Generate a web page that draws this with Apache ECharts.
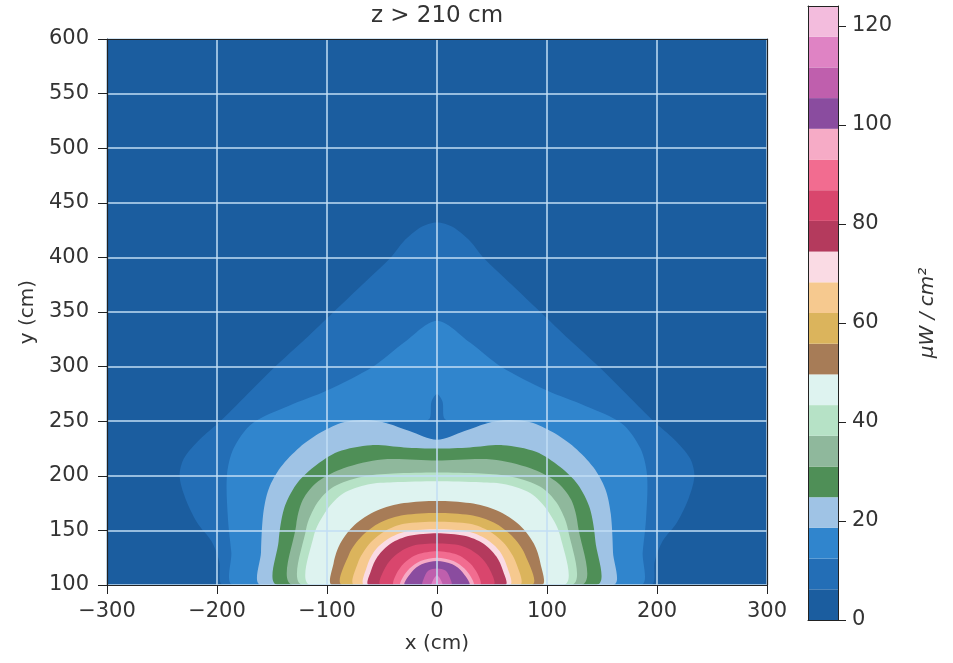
<!DOCTYPE html>
<html>
<head>
<meta charset="utf-8">
<script src="https://cdn.jsdelivr.net/npm/echarts@6/dist/echarts.min.js"></script>
<style>
html,body{margin:0;padding:0;background:#fff}
#main{width:953px;height:663px}
</style>
</head>
<body>
<div id="main"></div>
<script>
// contour levels (µW/cm²), 20 bands
var levels = [0, 6.2, 12.4, 18.6, 24.8, 31, 37.2, 43.4, 49.6, 55.8, 62, 68.2, 74.4, 80.6, 86.8, 93, 99.2, 105.4, 111.6, 117.8, 124];
var cbTicks = [0, 20, 40, 60, 80, 100, 120];

// right half of each contour line [x, y] in cm (left half is mirrored)
var c1  = [[0,432],[14,428],[30,415],[42,400],[68,375],[94,350],[120,325],[147,300],[175,272],[197,250],[216,233],[230,216],[234,200],[229,180],[218,157],[205,140],[198,122],[194,100]];
var c2  = [[0,342],[30,322],[58,300],[100,278],[135,264],[168,248],[185,225],[191,200],[190,160],[187,130],[185,100]];
var dip = [[0,275],[5,268],[7,252],[20,250],[44,249],[46,243],[30,236],[0,226]];
var c3  = [[0,233],[25,241],[45,248],[65,251],[85,249],[105,240],[125,226],[142,208],[153,188],[158,165],[160,130],[160,100]];
var c4  = [[0,225],[30,226],[60,228],[90,222],[112,208],[128,192],[139,170],[144,140],[145,100]];
var c5  = [[0,214],[50,215],[85,207],[108,195],[122,178],[128,155],[131,100]];
var c6  = [[0,203],[40,202],[69,199],[94,190],[109,175],[119,151],[122,100]];
var c7  = [[0,195],[40,194],[63,192],[85,184],[100,169],[112,145],[115,100]];
var c8  = [[0,177],[30,175],[55,168],[75,155],[88,138],[94,120],[95,100]];
var c9  = [[0,166],[30,164],[52,157],[68,145],[80,128],[86,100]];
var c10 = [[0,158],[30,156],[48,149],[62,137],[72,120],[75,100]];
var c11 = [[0,151],[28,149],[45,142],[57,131],[64,116],[66,100]];
var c12 = [[0,147.5],[25,145],[42,138],[54,126],[60,113],[62,100]];
var c13 = [[0,138],[22,136],[37,128],[47,116],[51,100]];
var c14 = [[0,131],[18,128],[30,120],[37,110],[39,100]];
var c15 = [[0,125],[15,122],[25,115],[31,107],[33,100]];
var c16 = [[0,122],[14,119],[23,112],[29,100]];
var c17 = [[0,115],[8,113],[12,106],[13,100]];
var c18 = [[0,109],[5,100]];

// which band lies inside each line, drawn in this order
var regionBand = [1, 2, 1, 3, 4, 5, 6, 7, 8, 9, 10, 11, 12, 13, 14, 15, 16, 17, 18];
var regionPts  = [c1, c2, dip, c3, c4, c5, c6, c7, c8, c9, c10, c11, c12, c13, c14, c15, c16, c17, c18];

var bandColors = [
  '#1b5d9f', '#236eb6', '#3085cd', '#9fc3e5',
  '#4f8f57', '#8fb89c', '#b6e2c6', '#def3f0',
  '#a77c57', '#dbb45c', '#f6c98f', '#fadbe4',
  '#b43a5d', '#d9466d', '#f26c90', '#f6abc6',
  '#8a4c9f', '#bf5fad', '#df83c4', '#f3bcdd'
];

var chart = echarts.init(document.getElementById('main'));

function minus(v){ return v < 0 ? '\u2212' + (-v) : '' + v; }

var txt = '#333';
var font = 'DejaVu Sans';

var option = {
  animation: false,
  textStyle: {fontFamily: font},
  grid: [
    {left: 107, right: 186, top: 39, bottom: 78, show: true, backgroundColor: bandColors[0], borderWidth: 0},
    {left: 808, width: 30, top: 6, bottom: 43}
  ],
  xAxis: [
    {gridIndex: 0, type: 'value', min: -300, max: 300, interval: 100, position: 'bottom', z: 5,
      axisLine: {show: true, onZero: false, lineStyle: {color: '#222', width: 1.2}},
      axisTick: {show: true, length: 9, lineStyle: {color: '#222'}},
      axisLabel: {fontSize: 21, color: txt, margin: 16, formatter: minus},
      splitLine: {show: true, lineStyle: {color: '#c2def4', width: 1.5}},
      name: 'x (cm)', nameLocation: 'middle', nameGap: 49, nameTextStyle: {fontSize: 20, color: txt}},
    {gridIndex: 0, type: 'value', min: -300, max: 300, position: 'top', z: 5,
      axisLine: {show: true, onZero: false, lineStyle: {color: '#222', width: 1.2}},
      axisTick: {show: false}, axisLabel: {show: false}, splitLine: {show: false},
      name: 'z > 210 cm', nameLocation: 'middle', nameGap: 11, nameTextStyle: {fontSize: 23, color: txt}},
    {gridIndex: 1, type: 'value', min: 0, max: 1, position: 'bottom', z: 5,
      axisLine: {show: true, onZero: false, lineStyle: {color: '#222'}},
      axisTick: {show: false}, axisLabel: {show: false}, splitLine: {show: false}},
    {gridIndex: 1, type: 'value', min: 0, max: 1, position: 'top', z: 5,
      axisLine: {show: true, onZero: false, lineStyle: {color: '#222'}},
      axisTick: {show: false}, axisLabel: {show: false}, splitLine: {show: false}}
  ],
  yAxis: [
    {gridIndex: 0, type: 'value', min: 100, max: 600, interval: 50, position: 'left', z: 5,
      axisLine: {show: true, onZero: false, lineStyle: {color: '#222', width: 1.2}},
      axisTick: {show: true, length: 9, lineStyle: {color: '#222'}},
      axisLabel: {fontSize: 21, color: txt, margin: 18},
      splitLine: {show: true, lineStyle: {color: '#c2def4', width: 1.5}},
      name: 'y (cm)', nameLocation: 'middle', nameGap: 66, nameRotate: 90, nameTextStyle: {fontSize: 20, color: txt}},
    {gridIndex: 0, type: 'value', min: 100, max: 600, position: 'right', z: 5,
      axisLine: {show: true, onZero: false, lineStyle: {color: '#222', width: 1.2}},
      axisTick: {show: false}, axisLabel: {show: false}, splitLine: {show: false}},
    {gridIndex: 1, type: 'value', min: 0, max: 124, position: 'right', z: 5,
      axisLine: {show: true, onZero: false, lineStyle: {color: '#222'}},
      axisTick: {show: true, length: 8, customValues: cbTicks, lineStyle: {color: '#222'}},
      axisLabel: {fontSize: 21, color: txt, margin: 14, customValues: cbTicks},
      splitLine: {show: false},
      name: 'μW / cm²', nameLocation: 'middle', nameGap: 80, nameRotate: 90,
      nameTextStyle: {fontSize: 20, color: txt, fontStyle: 'italic'}},
    {gridIndex: 1, type: 'value', min: 0, max: 124, position: 'left', z: 5,
      axisLine: {show: true, onZero: false, lineStyle: {color: '#222'}},
      axisTick: {show: false}, axisLabel: {show: false}, splitLine: {show: false}}
  ],
  series: [
    {
      type: 'custom', xAxisIndex: 0, yAxisIndex: 0, clip: true, z: 2,
      data: regionPts.map(function(p, i){ return [0, 100, i]; }),
      renderItem: function(params, api){
        var right = regionPts[params.dataIndex];
        var left = right.filter(function(p){ return p[0] !== 0; }).reverse()
          .map(function(p){ return [-p[0], p[1]]; });
        var pts = right.concat(left).map(function(p){ return api.coord(p); });
        return {
          type: 'polygon',
          shape: {points: pts, smooth: 0.3},
          style: {fill: bandColors[regionBand[params.dataIndex]]}
        };
      }
    },
    {
      type: 'custom', xAxisIndex: 2, yAxisIndex: 2, z: 2,
      data: bandColors.map(function(c, i){ return [0, levels[i], i]; }),
      renderItem: function(params, api){
        var i = params.dataIndex;
        var lo = api.coord([0, levels[i]]);
        var hi = api.coord([1, levels[i + 1]]);
        return {
          type: 'rect',
          shape: {x: lo[0], y: hi[1], width: hi[0] - lo[0], height: lo[1] - hi[1]},
          style: {fill: bandColors[i]}
        };
      }
    }
  ]
};

chart.setOption(option);
</script>
</body>
</html>
